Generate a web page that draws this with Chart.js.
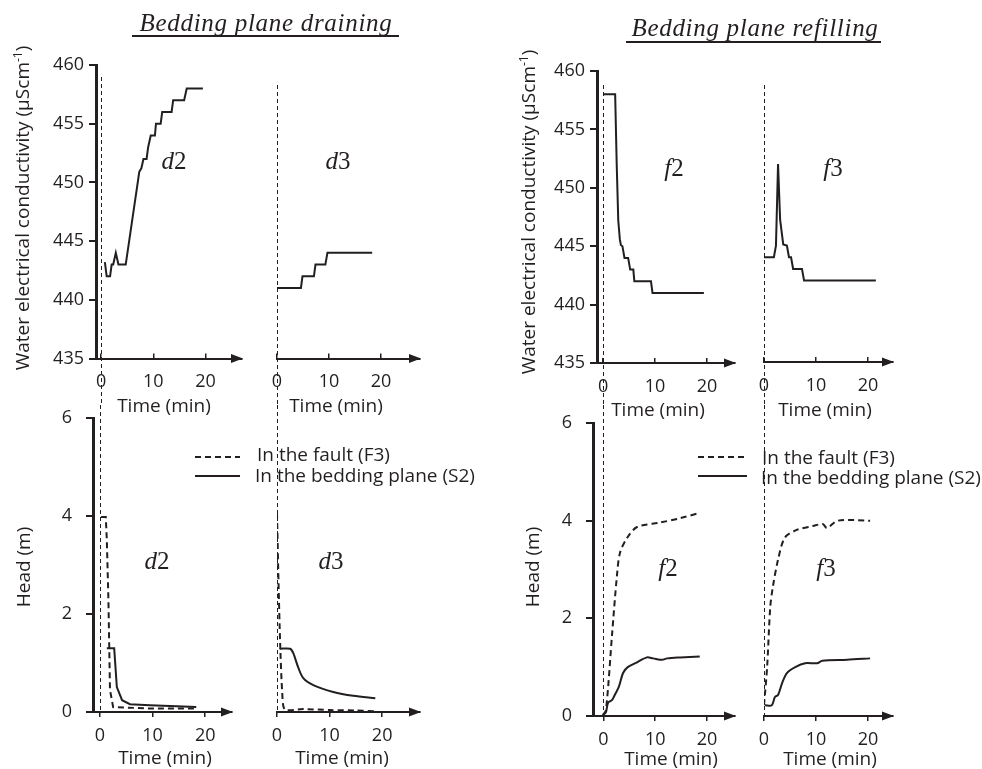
<!DOCTYPE html>
<html>
<head>
<meta charset="utf-8">
<script src="https://cdn.jsdelivr.net/npm/chart.js@4.4.1/dist/chart.umd.min.js"></script>
<style>
  html, body { margin: 0; padding: 0; background: #fff; }
  body { width: 982px; height: 769px; overflow: hidden; position: relative; font-family: 'Open Sans', sans-serif; color: #231f20; }
  canvas { position: absolute; left: 0; top: 0; }
  .t { position: absolute; white-space: nowrap; line-height: 1; }
  .title { font-family: 'Liberation Serif', serif; font-style: italic; font-size: 25px; letter-spacing: 0.7px; transform: translate(-50%, -50%); }
  .uline { position: absolute; height: 2px; background: #231f20; }
  .lab { font-family: 'Liberation Serif', serif; font-size: 25px; transform: translate(-50%, -50%); }
  .ax { font-size: 19px; transform: translate(-50%, -50%); }
  .yt { font-size: 19px; transform: translate(-50%, -50%) rotate(-90deg); }
  .yt sup { font-size: 12px; }
  .leg { font-size: 19px; transform: translateY(-50%); }
</style>
</head>
<body>
<canvas id="cA1" width="982" height="769"></canvas>
<canvas id="cA2" width="982" height="769"></canvas>
<canvas id="cB1" width="982" height="769"></canvas>
<canvas id="cB2" width="982" height="769"></canvas>
<canvas id="cC1" width="982" height="769"></canvas>
<canvas id="cC2" width="982" height="769"></canvas>
<canvas id="cD1" width="982" height="769"></canvas>
<canvas id="cD2" width="982" height="769"></canvas>

<div class="t title" style="left:266px;top:22px">Bedding plane draining</div>
<div class="uline" style="left:132px;top:35px;width:267px"></div>
<div class="t title" style="left:755px;top:27px">Bedding plane refilling</div>
<div class="uline" style="left:626px;top:41px;width:255px"></div>

<div class="t yt" style="left:22px;top:208px">Water electrical conductivity (µScm<sup>-1</sup>)</div>
<div class="t yt" style="left:528px;top:212px">Water electrical conductivity (µScm<sup>-1</sup>)</div>
<div class="t yt" style="left:23px;top:567px">Head (m)</div>
<div class="t yt" style="left:532px;top:567px">Head (m)</div>

<div class="t ax" style="left:164px;top:405px">Time (min)</div>
<div class="t ax" style="left:336px;top:405px">Time (min)</div>
<div class="t ax" style="left:658px;top:409px">Time (min)</div>
<div class="t ax" style="left:825px;top:409px">Time (min)</div>
<div class="t ax" style="left:165px;top:757px">Time (min)</div>
<div class="t ax" style="left:342px;top:757px">Time (min)</div>
<div class="t ax" style="left:671px;top:758px">Time (min)</div>
<div class="t ax" style="left:830px;top:758px">Time (min)</div>

<div class="t lab" style="left:174px;top:160px"><i>d</i>2</div>
<div class="t lab" style="left:338px;top:160px"><i>d</i>3</div>
<div class="t lab" style="left:674px;top:167px"><i>f</i>2</div>
<div class="t lab" style="left:833px;top:167px"><i>f</i>3</div>
<div class="t lab" style="left:157px;top:560px"><i>d</i>2</div>
<div class="t lab" style="left:331px;top:560px"><i>d</i>3</div>
<div class="t lab" style="left:668px;top:567px"><i>f</i>2</div>
<div class="t lab" style="left:826px;top:567px"><i>f</i>3</div>

<div class="t leg" id="lg1a" style="left:257px;top:454px"></div>
<div class="t leg" id="lg1b" style="left:255px;top:475px"></div>
<div class="t leg" id="lg2a" style="left:762px;top:457px"></div>
<div class="t leg" id="lg2b" style="left:761px;top:477px"></div>

<script>
// ---------- tick labels ----------
const timeTicks = [0, 10, 20];
const condTicks = [435, 440, 445, 450, 455, 460];
const headTicks = [0, 2, 4, 6];
const seriesNames = ['In the fault (F3)', 'In the bedding plane (S2)'];

// ---------- conductivity (µS/cm) vs time (min) ----------
const d2CondTime = [0.7, 1.05, 1.7, 2.0, 2.3, 2.8, 3.3, 4.7, 7.3, 7.7, 8.1, 8.7, 9.0, 9.5, 10.3, 10.5, 11.4, 11.7, 13.5, 13.8, 15.9, 16.4, 19.5];
const d2Cond     = [443.2, 442, 442, 443, 443, 444, 443, 443, 450.9, 451.2, 452, 452, 453, 454, 454, 455, 455, 456, 456, 457, 457, 458, 458];

const d3CondTime = [0, 4.6, 4.9, 7.1, 7.4, 9.3, 9.7, 18.3];
const d3Cond     = [441, 441, 442, 442, 443, 443, 444, 444];

const f2CondTime = [0, 2.3, 2.6, 2.9, 3.2, 3.4, 3.7, 4.1, 4.8, 5.2, 5.8, 6.0, 9.2, 9.5, 19.4];
const f2Cond     = [458, 458, 452, 447.2, 445.6, 445.1, 445, 444, 444, 443, 443, 442, 442, 441, 441];

const f3CondTime = [0, 1.9, 2.3, 2.7, 3.1, 3.7, 4.4, 4.8, 5.2, 5.6, 7.3, 7.7, 21.5];
const f3Cond     = [444, 444, 445, 452, 447.2, 445.1, 445, 444, 444, 443, 443, 442, 442];

// ---------- head (m) vs time (min) ----------
const d2FaultTime = [0.2, 1.1, 1.3, 1.6, 1.9, 2.5, 5, 10, 18.3];
const d2Fault     = [3.98, 3.98, 3.5, 2.3, 0.45, 0.1, 0.09, 0.07, 0.07];
const d2BedTime   = [1.3, 2.7, 3.2, 4.2, 5.7, 9.5, 18.3];
const d2Bed       = [1.3, 1.3, 0.51, 0.24, 0.16, 0.14, 0.1];

const d3FaultTime = [0, 0.3, 0.6, 1.0, 1.5, 5, 10, 15, 19];
const d3Fault     = [4.06, 2.6, 1.4, 0.39, 0.05, 0.06, 0.04, 0.03, 0.01];
const d3BedTime   = [0.5, 2.5, 3.1, 4.0, 5.0, 6.9, 10.7, 14.5, 18.7];
const d3Bed       = [1.29, 1.29, 1.2, 0.92, 0.69, 0.55, 0.41, 0.33, 0.28];

const f2FaultTime = [-0.1, 0.5, 1.7, 2.6, 3.2, 4.6, 6.5, 10.9, 14.8, 18.6];
const f2Fault     = [0.02, 0.12, 1.7, 2.85, 3.34, 3.65, 3.87, 3.96, 4.05, 4.16];
const f2BedTime   = [-0.1, 0.5, 0.9, 1.7, 2.2, 3.0, 3.8, 4.7, 6.5, 8.4, 9.6, 11.3, 12.3, 14.8, 18.6];
const f2Bed       = [0.02, 0.08, 0.27, 0.33, 0.43, 0.6, 0.88, 1.0, 1.1, 1.2, 1.18, 1.15, 1.18, 1.2, 1.22];

const f3FaultTime = [0, 0.6, 1.2, 1.7, 2.7, 4.0, 6.3, 9.4, 11.3, 12.1, 14.2, 20.4];
const f3Fault     = [0.22, 1.0, 2.23, 2.64, 3.2, 3.65, 3.81, 3.89, 3.93, 3.85, 4.0, 4.0];
const f3BedTime   = [0.2, 1.5, 2.1, 2.7, 3.5, 4.4, 6.0, 7.9, 10.2, 11.2, 16.0, 20.4];
const f3Bed       = [0.22, 0.22, 0.39, 0.43, 0.68, 0.88, 1.0, 1.08, 1.08, 1.13, 1.15, 1.18];

// ---------- rendering ----------
const INK = '#231f20';
const W = 982, H = 769;
const pts = (xs, ys) => xs.map((x, i) => ({ x: x, y: ys[i] }));

document.getElementById('lg1a').textContent = seriesNames[0];
document.getElementById('lg1b').textContent = seriesNames[1];
document.getElementById('lg2a').textContent = seriesNames[0];
document.getElementById('lg2b').textContent = seriesNames[1];

const solid = (data, tension) => ({ data: data, borderColor: INK, borderWidth: 2, pointRadius: 0, fill: false, tension: tension || 0 });
const dashed = (data, tension) => ({ data: data, borderColor: INK, borderWidth: 2, borderDash: [6, 4], pointRadius: 0, fill: false, tension: tension || 0 });

const decor = {
  id: 'decor',
  beforeDatasetsDraw(chart, args, o) {
    const ctx = chart.ctx, x = chart.scales.x;
    const gx = Math.round(x.getPixelForValue(0)) + 0.5;
    ctx.save();
    ctx.strokeStyle = INK; ctx.lineWidth = 1; ctx.setLineDash([4, 3]);
    ctx.beginPath(); ctx.moveTo(gx, o.guide[0]); ctx.lineTo(gx, o.guide[1]); ctx.stroke();
    ctx.restore();
  },
  afterDraw(chart, args, o) {
    const ctx = chart.ctx, a = chart.chartArea;
    ctx.save();
    ctx.fillStyle = INK;
    ctx.beginPath();
    ctx.moveTo(a.right + 1, a.bottom);
    ctx.lineTo(a.right - 11, a.bottom - 4.5);
    ctx.lineTo(a.right - 11, a.bottom + 4.5);
    ctx.closePath(); ctx.fill();
    if (o.legend) {
      const L = o.legend;
      chart.data.datasets.forEach((d, i) => {
        ctx.strokeStyle = d.borderColor; ctx.lineWidth = d.borderWidth;
        ctx.setLineDash(d.borderDash || []);
        ctx.beginPath(); ctx.moveTo(L.x0, L.y[i]); ctx.lineTo(L.x1, L.y[i]); ctx.stroke();
      });
    }
    ctx.restore();
  }
};

function panel(id, o) {
  const yW = o.yTicks ? 60 : 0;
  const xH = 40;
  const font = { family: 'Open Sans', size: 18 };
  return new Chart(document.getElementById(id), {
    type: 'line',
    data: { datasets: o.datasets },
    options: {
      responsive: false, animation: false, events: [],
      layout: { padding: { left: o.box.l - yW, right: W - o.box.r, top: o.box.t, bottom: H - o.box.b - xH } },
      plugins: { legend: { display: false }, tooltip: { enabled: false }, decor: { guide: o.guide, legend: o.legend } },
      scales: {
        x: {
          type: 'linear', position: 'bottom', min: o.x[0], max: o.x[1],
          afterBuildTicks: s => { s.ticks = timeTicks.map(v => ({ value: v })); },
          afterFit: s => { s.height = xH; },
          grid: { display: true, drawOnChartArea: false, drawTicks: true, tickLength: o.xTickLen, color: INK, lineWidth: 1.5 },
          border: { display: true, color: INK, width: 2 },
          ticks: { font: font, color: INK, padding: o.xPad, maxRotation: 0, autoSkip: false, callback: v => String(v) }
        },
        y: {
          type: 'linear', display: !!o.yTicks, min: o.y[0], max: o.y[1],
          afterBuildTicks: s => { s.ticks = (o.yTicks || []).map(v => ({ value: v })); },
          afterFit: s => { s.width = yW; },
          grid: { display: true, drawOnChartArea: false, drawTicks: true, tickLength: 7, color: INK, lineWidth: 2 },
          border: { display: true, color: INK, width: 3 },
          ticks: { font: font, color: INK, padding: o.yPad || 4, autoSkip: false, callback: v => String(v) }
        }
      }
    },
    plugins: [decor]
  });
}

// top row: conductivity
panel('cA1', { box: { l: 96, r: 242, t: 65, b: 358.5 }, x: [-1, 27], y: [435, 460], yTicks: condTicks, yPad: 5,
  xTickLen: -5, xPad: 18, guide: [77, 405],
  datasets: [solid(pts(d2CondTime, d2Cond))] });
panel('cA2', { box: { l: 277, r: 420, t: 65, b: 358.5 }, x: [0, 27.5], y: [435, 460],
  xTickLen: -5, xPad: 18, guide: [85, 405],
  datasets: [solid(pts(d3CondTime, d3Cond))] });
panel('cB1', { box: { l: 597, r: 735, t: 71, b: 363 }, x: [-1.2, 25.4], y: [435, 460], yTicks: condTicks, yPad: 5,
  xTickLen: -5, xPad: 18, guide: [85, 405],
  datasets: [solid(pts(f2CondTime, f2Cond))] });
panel('cB2', { box: { l: 764, r: 893, t: 71, b: 362 }, x: [0, 24.8], y: [435, 460],
  xTickLen: -5, xPad: 18, guide: [85, 405],
  datasets: [solid(pts(f3CondTime, f3Cond))] });

// bottom row: head
panel('cC1', { box: { l: 93, r: 232, t: 418, b: 712 }, x: [-1.33, 25.1], y: [0, 6], yTicks: headTicks, yPad: 14,
  xTickLen: 5, xPad: 8, guide: [405, 712], legend: { x0: 195, x1: 240, y: [457, 476] },
  datasets: [dashed(pts(d2FaultTime, d2Fault)), solid(pts(d2BedTime, d2Bed))] });
panel('cC2', { box: { l: 277, r: 420, t: 418, b: 712 }, x: [0, 27.2], y: [0, 6],
  xTickLen: 5, xPad: 8, guide: [405, 712],
  datasets: [dashed(pts(d3FaultTime, d3Fault), 0.25), solid(pts(d3BedTime, d3Bed), 0.3)] });
panel('cD1', { box: { l: 593, r: 735, t: 423, b: 716 }, x: [-2.0, 25.4], y: [0, 6], yTicks: headTicks, yPad: 14,
  xTickLen: 5, xPad: 8, guide: [405, 716], legend: { x0: 698, x1: 747, y: [457, 476] },
  datasets: [dashed(pts(f2FaultTime, f2Fault), 0.3), solid(pts(f2BedTime, f2Bed), 0.3)] });
panel('cD2', { box: { l: 764, r: 893, t: 423, b: 716 }, x: [0, 24.8], y: [0, 6],
  xTickLen: 5, xPad: 8, guide: [405, 716],
  datasets: [dashed(pts(f3FaultTime, f3Fault), 0.3), solid(pts(f3BedTime, f3Bed), 0.3)] });
</script>
</body>
</html>
